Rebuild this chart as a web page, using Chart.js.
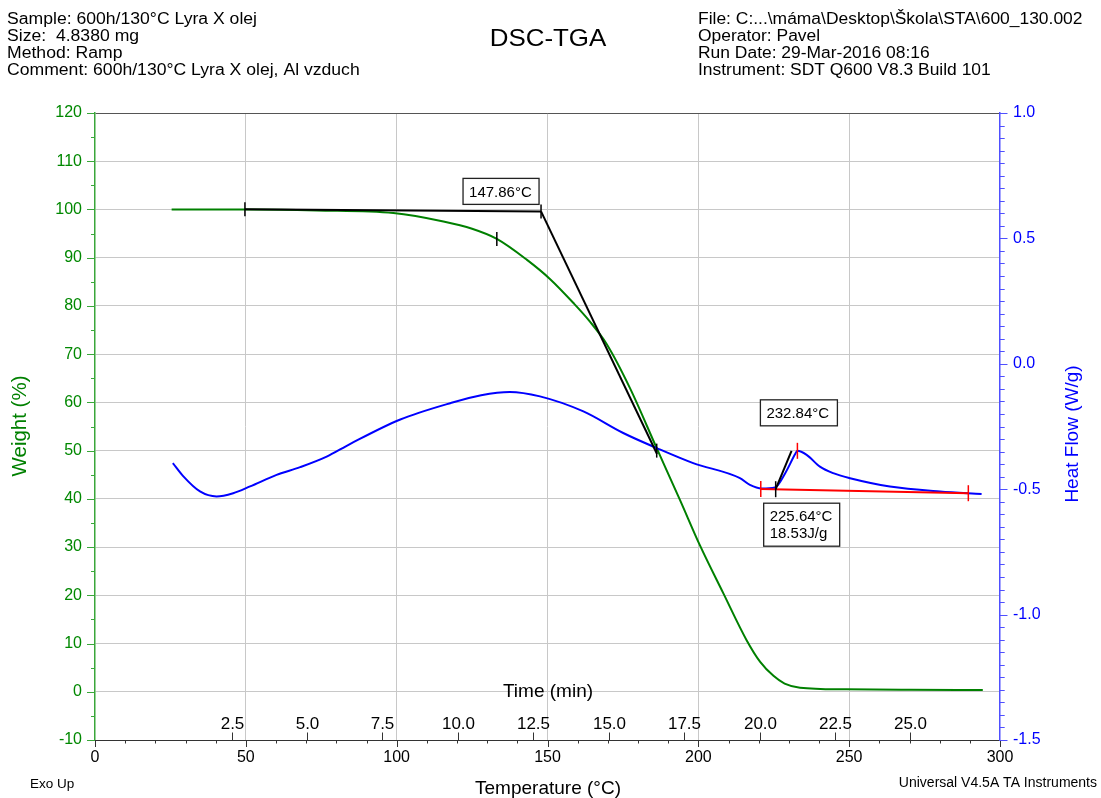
<!DOCTYPE html>
<html>
<head>
<meta charset="utf-8">
<script src="https://cdn.jsdelivr.net/npm/chart.js@4/dist/chart.umd.min.js"></script>
<style>
  html, body { margin: 0; padding: 0; background: #fff; }
  #c { display: block; }
</style>
</head>
<body>
<canvas id="c" width="1101" height="798"></canvas>
<script>
// ---- run information ----
const headerLeft = [
  'Sample: 600h/130°C Lyra X olej',
  'Size:  4.8380 mg',
  'Method: Ramp',
  'Comment: 600h/130°C Lyra X olej, Al vzduch'
];
const headerRight = [
  'File: C:...\\máma\\Desktop\\Škola\\STA\\600_130.002',
  'Operator: Pavel',
  'Run Date: 29-Mar-2016 08:16',
  'Instrument: SDT Q600 V8.3 Build 101'
];

// ---- tick labels ----
const tempTicks = [0, 50, 100, 150, 200, 250, 300];
const weightTicks = [-10, 0, 10, 20, 30, 40, 50, 60, 70, 80, 90, 100, 110, 120];
const heatTicks = [-1.5, -1.0, -0.5, 0.0, 0.5, 1.0];
const timeTicks = [2.5, 5.0, 7.5, 10.0, 12.5, 15.0, 17.5, 20.0, 22.5, 25.0];
const rampStartTemp = 20.3;   // °C at t = 0
const rampRate = 10.0;        // °C/min

// ---- TGA: weight (%) vs temperature (°C) ----
const weightTemp = [25.4, 50.1, 73.5, 98.9, 115.5, 125.0, 133.2, 143.1, 150.8, 158.6, 164.0, 169.6, 177.3,
                    186.2, 193.9, 200.5, 208.3, 216.0, 220.5, 224.9, 228.6, 233.7, 249.0, 270.0, 294.3];
const weightPct  = [100.0, 100.0, 99.8, 99.25, 97.5, 96.0, 93.9, 89.6, 85.6, 80.6, 76.8, 72.1, 63.0,
                    50.5, 39.8, 30.4, 20.4, 10.7, 6.2, 3.3, 1.7, 0.85, 0.5, 0.4, 0.37];

// ---- DSC: heat flow (W/g) vs temperature (°C) ----
const heatTemp = [25.8, 29.3, 34.8, 40.3, 45.8, 51.4, 60.2, 68.0, 76.8, 84.5, 101.0, 118.0, 128.0, 137.5,
                  147.5, 161.9, 175.1, 186.2, 198.3, 213.8, 217.1, 221.0, 225.4, 228.8, 232.1, 232.8,
                  235.9, 240.3, 244.7, 250.3, 263.5, 280.1, 293.9];
const heatFlow = [-0.396, -0.449, -0.509, -0.529, -0.516, -0.489, -0.443, -0.412, -0.370, -0.320, -0.223,
                  -0.156, -0.125, -0.112, -0.130, -0.190, -0.276, -0.336, -0.396, -0.456, -0.483, -0.497,
                  -0.493, -0.436, -0.360, -0.347, -0.363, -0.410, -0.436, -0.456, -0.489, -0.509, -0.519];

// ---- analysis: weight onset (147.86 °C) ----
const onsetBaseTemp = [49.7, 147.86];
const onsetBaseWeight = [100.05, 99.6];
const onsetSlopeTemp = [147.86, 186.3];
const onsetSlopeWeight = [99.6, 49.3];
const weightMarkTemp = [49.7, 147.86, 133.2, 186.2];
const weightMarkValue = [100.05, 99.6, 93.9, 50.0];

// ---- analysis: DSC peak (onset 225.64 °C, peak 232.84 °C, 18.53 J/g) ----
const peakBaseTemp = [220.7, 289.5];
const peakBaseFlow = [-0.499, -0.516];
const peakTangentTemp = [225.64, 230.9];
const peakTangentFlow = [-0.500, -0.347];
const peakLimitTemp = [220.7, 232.84, 289.5];
const peakLimitFlow = [-0.499, -0.347, -0.516];
const peakOnsetTemp = 225.64;
const peakOnsetFlow = -0.500;
const peakTemp = 232.84;
const peakFlow = -0.347;
const peakEnthalpy = 18.53;
const weightOnsetTemp = 147.86;
const weightOnsetValue = 99.6;

const FONT = '"Liberation Sans", Arial, Helvetica, sans-serif';
const GREEN = '#008000';
const BLUE = '#0000ff';

const pts = (xs, ys) => xs.map((v, i) => ({ x: v, y: ys[i] }));

// text drawn slightly wider than the font's natural width
function wideText(ctx, s, x, y, stretch) {
  ctx.save();
  ctx.translate(x, y);
  ctx.scale(stretch, 1);
  ctx.fillText(s, 0, 0);
  ctx.restore();
}

const decor = {
  id: 'decor',
  afterDatasetsDraw(chart) {
    const ctx = chart.ctx;
    const sx = chart.scales.x, sW = chart.scales.yW, sH = chart.scales.yH;
    ctx.save();
    ctx.lineWidth = 1.5;
    // short vertical markers on the analysis points
    ctx.strokeStyle = '#000';
    weightMarkTemp.forEach((t, i) => {
      const px = sx.getPixelForValue(t), py = sW.getPixelForValue(weightMarkValue[i]);
      ctx.beginPath(); ctx.moveTo(px, py - 7); ctx.lineTo(px, py + 7); ctx.stroke();
    });
    {
      const px = sx.getPixelForValue(peakOnsetTemp), py = sH.getPixelForValue(peakOnsetFlow);
      ctx.beginPath(); ctx.moveTo(px, py - 8); ctx.lineTo(px, py + 8); ctx.stroke();
    }
    ctx.strokeStyle = '#ff0000';
    peakLimitTemp.forEach((t, i) => {
      const px = sx.getPixelForValue(t), py = sH.getPixelForValue(peakLimitFlow[i]);
      ctx.beginPath(); ctx.moveTo(px, py - 8); ctx.lineTo(px, py + 8); ctx.stroke();
    });

    // result boxes
    const box = (lines, left, top, w, h) => {
      ctx.fillStyle = '#fff';
      ctx.fillRect(left, top, w, h);
      ctx.strokeStyle = '#222';
      ctx.lineWidth = 1.3;
      ctx.strokeRect(left, top, w, h);
      ctx.fillStyle = '#000';
      ctx.font = '15px ' + FONT;
      ctx.textAlign = 'left';
      ctx.textBaseline = 'middle';
      const lh = 17;
      const y0 = top + h / 2 - (lines.length - 1) * lh / 2;
      lines.forEach((s, i) => ctx.fillText(s, left + 6, y0 + i * lh + 1));
    };
    {
      const px = sx.getPixelForValue(weightOnsetTemp), py = sW.getPixelForValue(weightOnsetValue);
      box([weightOnsetTemp.toFixed(2) + '°C'], px - 78, py - 33, 76, 26);
    }
    {
      const px = sx.getPixelForValue(peakTemp), py = sH.getPixelForValue(peakFlow);
      box([peakTemp.toFixed(2) + '°C'], px - 37, py - 51, 77, 26);
    }
    {
      const px = sx.getPixelForValue(peakOnsetTemp), py = sH.getPixelForValue(peakOnsetFlow);
      box([peakOnsetTemp.toFixed(2) + '°C', peakEnthalpy.toFixed(2) + 'J/g'], px - 12, py + 14, 76, 43);
    }
    ctx.restore();
  },
  afterDraw(chart) {
    const ctx = chart.ctx;
    const area = chart.chartArea;
    const sx = chart.scales.x, sW = chart.scales.yW, sH = chart.scales.yH;
    ctx.save();
    ctx.lineWidth = 1;

    // temperature axis tick marks
    ctx.strokeStyle = '#333';
    for (let t = 0; t <= 300; t += 10) {
      const px = Math.round(sx.getPixelForValue(t)) + 0.5;
      const len = (t % 50 === 0) ? 7 : 3.5;
      ctx.beginPath(); ctx.moveTo(px, area.bottom); ctx.lineTo(px, area.bottom + len); ctx.stroke();
    }
    // time axis (inside the plot, above the temperature axis)
    ctx.fillStyle = '#000';
    ctx.font = '17px ' + FONT;
    ctx.textAlign = 'center';
    ctx.textBaseline = 'middle';
    timeTicks.forEach(tm => {
      const px = Math.round(sx.getPixelForValue(rampStartTemp + rampRate * tm)) + 0.5;
      ctx.beginPath(); ctx.moveTo(px, area.bottom); ctx.lineTo(px, area.bottom - 7.5); ctx.stroke();
      ctx.fillText(tm.toFixed(1), px, area.bottom - 16);
    });
    ctx.font = '19px ' + FONT;
    ctx.fillText('Time (min)', 548, 692);

    // weight axis tick marks
    ctx.strokeStyle = '#3aa63a';
    for (let v = -10; v <= 120; v += 5) {
      const py = Math.round(sW.getPixelForValue(v)) + 0.5;
      const len = (v % 10 === 0) ? 8 : 4;
      ctx.beginPath(); ctx.moveTo(area.left, py); ctx.lineTo(area.left - len, py); ctx.stroke();
    }
    // heat flow axis tick marks
    ctx.strokeStyle = '#4f4fff';
    for (let k = 0; k <= 50; k++) {
      const v = -1.5 + k * 0.05;
      const py = Math.round(sH.getPixelForValue(v)) + 0.5;
      const len = (k % 10 === 0) ? 7.5 : 4.7;
      ctx.beginPath(); ctx.moveTo(area.right, py); ctx.lineTo(area.right + len, py); ctx.stroke();
    }

    // header
    ctx.fillStyle = '#000';
    ctx.textAlign = 'left';
    ctx.textBaseline = 'middle';
    ctx.font = '16px ' + FONT;
    headerLeft.forEach((s, i) => wideText(ctx, s, 7, 20 + i * 17, 1.1));
    headerRight.forEach((s, i) => wideText(ctx, s, 698, 20 + i * 17, 1.09));
    ctx.textAlign = 'center';
    ctx.font = '24px ' + FONT;
    wideText(ctx, 'DSC-TGA', 548, 39, 1.08);

    // axis titles
    ctx.font = '19px ' + FONT;
    ctx.fillText('Temperature (°C)', 548, 789);
    ctx.save();
    ctx.translate(20, 426);
    ctx.rotate(-Math.PI / 2);
    ctx.fillStyle = GREEN;
    ctx.font = '20.5px ' + FONT;
    ctx.fillText('Weight (%)', 0, 0);
    ctx.restore();
    ctx.save();
    ctx.translate(1073, 434);
    ctx.rotate(-Math.PI / 2);
    ctx.fillStyle = BLUE;
    ctx.fillText('Heat Flow (W/g)', 0, 0);
    ctx.restore();

    // footer
    ctx.fillStyle = '#000';
    ctx.textAlign = 'left';
    ctx.font = '13.5px ' + FONT;
    ctx.fillText('Exo Up', 30, 784);
    ctx.textAlign = 'right';
    ctx.font = '14px ' + FONT;
    ctx.fillText('Universal V4.5A TA Instruments', 1097, 783);
    ctx.restore();
  }
};

new Chart(document.getElementById('c'), {
  type: 'line',
  data: {
    datasets: [
      { data: pts(onsetBaseTemp, onsetBaseWeight), yAxisID: 'yW', borderColor: '#000', borderWidth: 2 },
      { data: pts(onsetSlopeTemp, onsetSlopeWeight), yAxisID: 'yW', borderColor: '#000', borderWidth: 2 },
      { data: pts(peakTangentTemp, peakTangentFlow), yAxisID: 'yH', borderColor: '#000', borderWidth: 2 },
      { data: pts(peakBaseTemp, peakBaseFlow), yAxisID: 'yH', borderColor: '#ff0000', borderWidth: 2 },
      { data: pts(heatTemp, heatFlow), yAxisID: 'yH', borderColor: BLUE, borderWidth: 2,
        cubicInterpolationMode: 'monotone' },
      { data: pts(weightTemp, weightPct), yAxisID: 'yW', borderColor: GREEN, borderWidth: 2,
        cubicInterpolationMode: 'monotone' }
    ]
  },
  options: {
    responsive: false,
    animation: false,
    devicePixelRatio: 1,
    layout: { padding: { top: 113, left: 0, right: 0, bottom: 0 } },
    elements: { point: { radius: 0 }, line: { fill: false } },
    plugins: { legend: { display: false }, tooltip: { enabled: false }, title: { display: false } },
    scales: {
      x: {
        type: 'linear', position: 'bottom', min: 0, max: 300,
        afterFit(s) { s.height = 58; },
        afterBuildTicks(s) { s.ticks = tempTicks.map(v => ({ value: v })); },
        ticks: { font: { family: FONT, size: 16 }, color: '#000', padding: 8, maxRotation: 0, autoSkip: false,
                 callback: v => String(v) },
        grid: { drawTicks: false,
                color: c => (c.tick && (c.tick.value === 0 || c.tick.value === 300)) ? 'rgba(0,0,0,0)' : '#c8c8c8' },
        border: { display: true, color: '#333', width: 1 }
      },
      yW: {
        type: 'linear', position: 'left', min: -10, max: 120,
        afterFit(s) { s.width = 95; },
        afterBuildTicks(s) { s.ticks = weightTicks.map(v => ({ value: v })); },
        ticks: { font: { family: FONT, size: 16 }, color: '#008800', padding: 13, autoSkip: false,
                 callback: v => String(v) },
        grid: { drawTicks: false,
                color: c => {
                  if (!c.tick) return '#c8c8c8';
                  if (c.tick.value === 120) return '#555';
                  if (c.tick.value === -10) return 'rgba(0,0,0,0)';
                  return '#c8c8c8';
                } },
        border: { display: true, color: '#3aa63a', width: 1.5 }
      },
      yH: {
        type: 'linear', position: 'right', min: -1.5, max: 1.0,
        afterFit(s) { s.width = 101; },
        afterBuildTicks(s) { s.ticks = heatTicks.map(v => ({ value: v })); },
        ticks: { font: { family: FONT, size: 16 }, color: BLUE, padding: 13, autoSkip: false,
                 callback: v => Number(v).toFixed(1) },
        grid: { drawOnChartArea: false, drawTicks: false },
        border: { display: true, color: '#4f4fff', width: 1.5 }
      }
    }
  },
  plugins: [decor]
});
</script>
</body>
</html>
